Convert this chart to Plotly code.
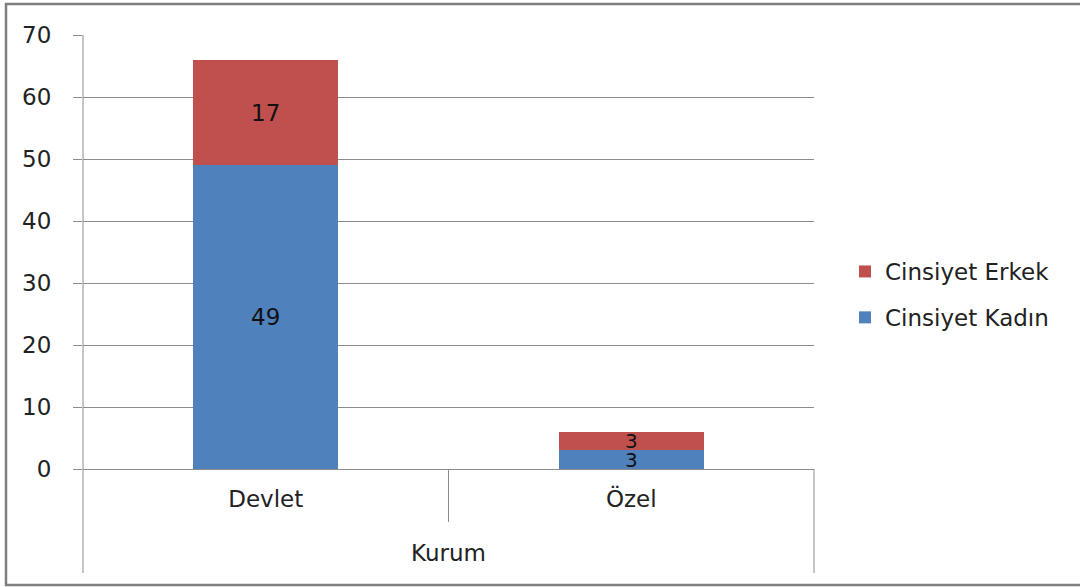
import plotly.graph_objects as go

categories = ["Devlet", "Özel"]
kadin = [49, 3]
erkek = [17, 3]
series_names = ["Cinsiyet Kadın", "Cinsiyet Erkek"]
y_ticks = [0, 10, 20, 30, 40, 50, 60, 70]
axis_title = "Kurum"

W, H = 1080, 587
L, R, T, B = 83, 814, 35, 469
FONT = "DejaVu Sans"
FS = 23
GRAY = "#8c8c8c"
TXT = "#222222"

def px(x):
    return (x - L) / (R - L)

def py(y):
    return (B - y) / (B - T)

label_sizes = [FS, 20]

fig = go.Figure()
fig.add_trace(go.Bar(x=categories, y=kadin, name=series_names[0], marker_color="#4F81BD",
                     text=[str(v) for v in kadin], textposition="inside", insidetextanchor="middle",
                     textangle=0, constraintext="none", legendgroup="k", legendrank=2,
                     textfont=dict(size=label_sizes, color="#111111", family=FONT), cliponaxis=False,
                     marker_line_width=0))
fig.add_trace(go.Bar(x=categories, y=erkek, name=series_names[1], marker_color="#C0504D",
                     text=[str(v) for v in erkek], textposition="inside", insidetextanchor="middle",
                     textangle=0, constraintext="none", legendgroup="e", legendrank=1,
                     textfont=dict(size=label_sizes, color="#111111", family=FONT), cliponaxis=False,
                     marker_line_width=0))

shapes = [
    dict(type="rect", xref="paper", yref="paper", x0=px(6), x1=px(1082), y0=py(585), y1=py(4),
         line=dict(color="#7f7f7f", width=2.5), layer="below"),
    dict(type="line", xref="paper", yref="paper", x0=0, x1=0, y0=py(573), y1=1,
         line=dict(color=GRAY, width=1)),
    dict(type="line", xref="paper", yref="paper", x0=0.5, x1=0.5, y0=py(522), y1=0,
         line=dict(color=GRAY, width=1)),
    dict(type="line", xref="paper", yref="paper", x0=1, x1=1, y0=py(573), y1=0,
         line=dict(color=GRAY, width=1)),
]

fig.update_layout(
    width=W, height=H,
    margin=dict(l=L, r=W - R, t=T, b=H - B, autoexpand=False),
    barmode="stack", bargap=0.603,
    paper_bgcolor="white", plot_bgcolor="white",
    font=dict(family=FONT, size=FS, color=TXT),
    xaxis=dict(showgrid=False, ticks="", showline=False, tickfont=dict(size=FS, color=TXT),
               ticklabelstandoff=14),
    yaxis=dict(range=[0, 70], tickvals=y_ticks, showgrid=True, gridcolor=GRAY, gridwidth=1,
               ticks="outside", ticklen=9, tickcolor=GRAY, showline=False,
               zeroline=True, zerolinecolor=GRAY, zerolinewidth=1,
               ticklabelstandoff=17, tickfont=dict(size=FS, color=TXT)),
    legend=dict(x=px(845), y=py(250), xanchor="left", yanchor="top", traceorder="grouped",
                font=dict(size=FS, color=TXT), itemwidth=30, tracegroupgap=13,
                bgcolor="rgba(0,0,0,0)"),
    shapes=shapes,
    annotations=[dict(text=axis_title, xref="paper", yref="paper", x=0.5, y=py(553),
                      showarrow=False, font=dict(size=FS, color=TXT),
                      xanchor="center", yanchor="middle")],
)
fig.write_html("out.html", config={"displayModeBar": False},
               post_script="document.body.style.margin='0';")
